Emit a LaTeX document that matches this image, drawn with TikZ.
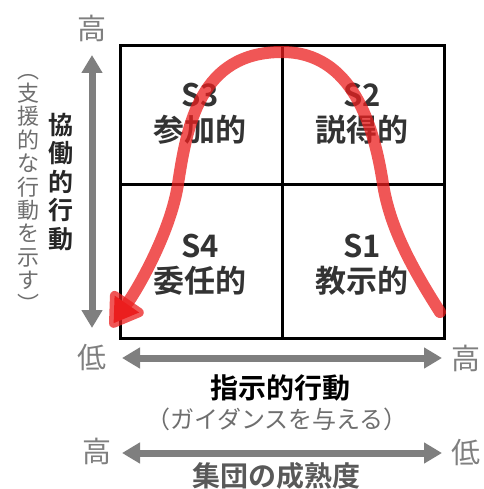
\documentclass[tikz,border=0pt]{standalone}
\usepackage{fontspec}
\setmainfont{Noto Sans CJK JP}[BoldFont={Noto Sans CJK JP Bold}]
\usetikzlibrary{arrows.meta}
\definecolor{axisgray}{HTML}{7F7F7F}
\definecolor{labgray}{HTML}{6E6E6E}
\definecolor{quadtext}{HTML}{333333}
\definecolor{curvered}{RGB}{235,30,30}
\tikzset{
  grid line/.style={line width=3pt, black},
  axis arrow/.style={line width=7pt, axisgray, {Triangle[length=18pt,width=20pt]}-{Triangle[length=18pt,width=20pt]}},
  axis end/.style={text=axisgray, font=\fontsize{29}{30}\selectfont, inner sep=0pt},
  quad/.style={text=quadtext, font=\bfseries\fontsize{31}{35}\selectfont, align=center, inner sep=0pt},
  red curve/.style={line width=12pt, curvered, draw opacity=0.75, line cap=round, line join=round},
  vlabel bold/.style={align=center, inner sep=0pt, font=\bfseries\fontsize{25}{28.5}\selectfont, text=black!85},
  vlabel gray/.style={align=center, inner sep=0pt, font=\fontsize{22}{23.4}\selectfont, text=labgray},
}
\begin{document}
\begin{tikzpicture}[x=1pt,y=-1pt]
\useasboundingbox (0,0) rectangle (483,489);
% grid
\coordinate (tl) at (120,46);
\coordinate (br) at (444,338);
\coordinate (mt) at (282,46);
\coordinate (mb) at (282,338);
\coordinate (ml) at (120,184);
\coordinate (mr) at (444,184);
\draw[grid line] (tl) rectangle (br);
\draw[grid line] (mt) -- (mb);
\draw[grid line] (ml) -- (mr);
% quadrant labels
\node[quad] (s3) at (200,114) {S3\\参加的};
\node[quad] (s2) at (362,114) {S2\\説得的};
\node[quad] (s4) at (200,265) {S4\\委任的};
\node[quad] (s1) at (362,265) {S1\\教示的};
% red curve
\coordinate (cstart) at (440,312);
\coordinate (cright) at (383,184);
\coordinate (cpeak) at (282,52);
\coordinate (cleft) at (178,184);
\coordinate (cend) at (111,327);
\draw[red curve, -{Triangle[length=37pt,width=44pt,round]}]
  (cstart) .. controls (412,268) and (390,228) .. (cright)
  .. controls (374,125) and (352,52) .. (cpeak)
  .. controls (200,52) and (187,125) .. (cleft)
  .. controls (171,230) and (140,285) .. (cend);
% vertical axis
\coordinate (vtop) at (92,55);
\coordinate (vbot) at (92,328);
\draw[axis arrow] (vbot) -- (vtop);
\node[axis end] (vhigh) at (92,28) {高};
% horizontal axis 1
\coordinate (h1l) at (122,358);
\coordinate (h1r) at (442,358);
\draw[axis arrow] (h1l) -- (h1r);
\node[axis end] (h1low) at (92,358) {低};
\node[axis end] (h1high) at (466,358) {高};
\node[font=\bfseries\fontsize{28}{30}\selectfont, inner sep=0pt] (xlab) at (280,388) {指示的行動};
\node[font=\fontsize{24}{26}\selectfont, text=labgray, inner sep=0pt] (xsub) at (277,419) {（ガイダンスを与える）};
% horizontal axis 2
\coordinate (h2l) at (122,453);
\coordinate (h2r) at (442,453);
\draw[axis arrow] (h2l) -- (h2r);
\node[axis end] (h2high) at (97,451) {高};
\node[axis end] (h2low) at (466,453) {低};
\node[font=\bfseries\fontsize{28}{30}\selectfont, text=black!65, inner sep=0pt] (mlab) at (276,476) {集団の成熟度};
% vertical labels
\node[vlabel bold] (ylab) at (61,182) {協\\働\\的\\行\\動};
\node[vlabel gray] (ysub) at (28,193) {︵\\支\\援\\的\\な\\行\\動\\を\\示\\す\\︶};
\end{tikzpicture}
\end{document}
